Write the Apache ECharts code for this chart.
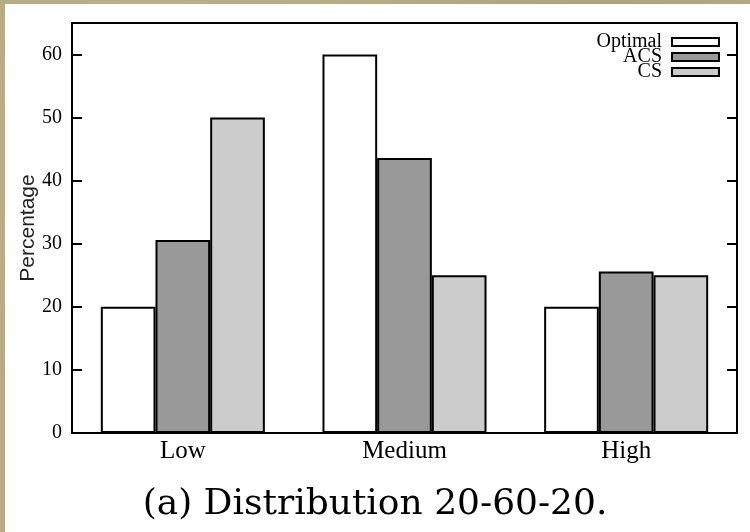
<!DOCTYPE html>
<html>
<head>
<meta charset="utf-8">
<script src="https://cdn.jsdelivr.net/npm/echarts@6/dist/echarts.min.js"></script>
<style>
html,body{margin:0;padding:0;}
body{width:750px;height:532px;overflow:hidden;
 background:
  radial-gradient(circle at 20% 30%, rgba(255,255,255,0.08), rgba(0,0,0,0) 40%),
  radial-gradient(circle at 80% 10%, rgba(0,0,0,0.06), rgba(0,0,0,0) 30%),
  #b6ab83;}
#chart{position:absolute;left:0;top:0;width:750px;height:532px;
 background:linear-gradient(#fff,#fff) 5px 4px / 745px 528px no-repeat;}
</style>
</head>
<body>
<div id="chart"></div>
<script>
const categories = ['Low', 'Medium', 'High'];
const optimalValues = [20, 60, 20];
const acsValues = [30.6, 43.6, 25.6];
const csValues = [50, 25, 25];
const seriesNames = ['Optimal', 'ACS', 'CS'];
const yTicks = { min: 0, max: 65, interval: 10 };
const caption = '(a) Distribution 20-60-20.';

const chart = echarts.init(document.getElementById('chart'), null, {renderer: 'canvas'});
const serif = '"Liberation Serif", "Times New Roman", serif';
const bar = (name, data, color) => ({
  name, type: 'bar', data, yAxisIndex: 0,
  barGap: '0%', barCategoryGap: '26%',
  itemStyle: { color, borderColor: '#000', borderWidth: 2 }
});
const yCommon = {
  type: 'value', min: yTicks.min, max: yTicks.max, interval: yTicks.interval,
  splitLine: { show: false },
  axisLine: { show: true, lineStyle: { color: '#000', width: 2 } },
  axisTick: { show: true, inside: true, length: 10, lineStyle: { color: '#000', width: 2 } }
};
chart.setOption({
  animation: false,
  backgroundColor: 'transparent',
  grid: { left: 72, top: 23, right: 13, bottom: 99, show: true, borderColor: '#000', borderWidth: 2 },
  legend: {
    orient: 'vertical', right: 25, top: 27, align: 'right',
    icon: 'rect',
    itemWidth: 47, itemHeight: 8, itemGap: -5,
    data: seriesNames,
    textStyle: { fontFamily: serif, fontSize: 20, lineHeight: 15, color: '#000', padding: [0, 5, 0, 0] }
  },
  xAxis: {
    type: 'category', data: categories,
    axisLine: { show: true, lineStyle: { color: '#000', width: 2 } },
    axisTick: { show: false },
    axisLabel: { color: '#000', fontFamily: serif, fontSize: 25, margin: 6 }
  },
  yAxis: [
    Object.assign({}, yCommon, {
      position: 'left',
      name: 'Percentage', nameLocation: 'middle', nameGap: 33, nameRotate: 90,
      nameMoveOverlap: false,
      nameTextStyle: { fontFamily: '"Liberation Sans", Arial, sans-serif', fontSize: 21, color: '#222' },
      axisLabel: { color: '#000', fontFamily: serif, fontSize: 20, margin: 10, showMaxLabel: false }
    }),
    Object.assign({}, yCommon, {
      position: 'right',
      axisLabel: { show: false }
    })
  ],
  series: [
    bar(seriesNames[0], optimalValues, '#ffffff'),
    bar(seriesNames[1], acsValues, '#999999'),
    bar(seriesNames[2], csValues, '#cccccc')
  ],
  graphic: [{
    type: 'text', left: 'center', top: 487,
    style: { text: caption, fill: '#000', font: '36px "DejaVu Serif", serif' }
  }]
});
</script>
</body>
</html>
